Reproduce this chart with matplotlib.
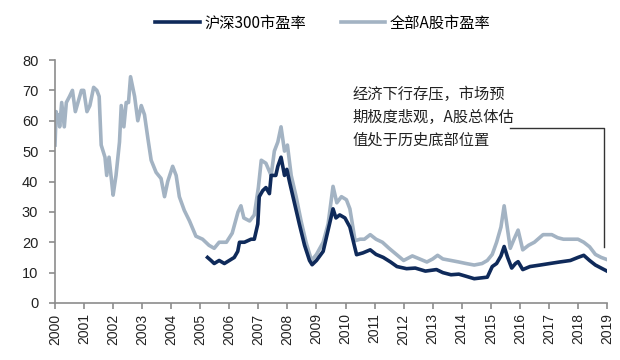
import matplotlib
matplotlib.use("Agg")
import matplotlib.pyplot as plt

plt.rcParams['font.family'] = ['Liberation Sans', 'Noto Sans CJK SC', 'DejaVu Sans']

# 全部A股市盈率 (all A-share PE)
all_a_t = [2000.0, 2000.04, 2000.08, 2000.12, 2000.16, 2000.23, 2000.32, 2000.39, 2000.5, 2000.6,
           2000.7, 2000.82, 2000.91, 2000.99, 2001.1, 2001.2, 2001.33, 2001.44, 2001.52, 2001.59,
           2001.72, 2001.78, 2001.86, 2001.95, 2002.0, 2002.1, 2002.22, 2002.28, 2002.37, 2002.45,
           2002.53, 2002.6, 2002.74, 2002.85, 2002.97, 2003.08, 2003.2, 2003.31, 2003.48, 2003.65,
           2003.77, 2003.88, 2004.05, 2004.17, 2004.28, 2004.45, 2004.63, 2004.85, 2005.08, 2005.3,
           2005.48, 2005.65, 2005.9, 2006.1, 2006.3, 2006.4, 2006.5,
           2006.7, 2006.86, 2007.0, 2007.1, 2007.26, 2007.44, 2007.55, 2007.67, 2007.78, 2007.9,
           2008.0, 2008.13, 2008.3, 2008.47, 2008.64, 2008.83, 2009.0, 2009.23, 2009.4, 2009.57,
           2009.7, 2009.86, 2010.03, 2010.15, 2010.33, 2010.5, 2010.65, 2010.85, 2011.05, 2011.27,
           2011.5, 2011.75, 2012.0, 2012.3, 2012.55, 2012.8, 2013.0, 2013.17, 2013.35, 2013.63,
           2013.9, 2014.15, 2014.43, 2014.7, 2014.88, 2015.05, 2015.2, 2015.35, 2015.46, 2015.55,
           2015.67, 2015.8, 2015.94, 2016.1, 2016.3, 2016.5, 2016.8, 2017.1, 2017.3, 2017.5,
           2017.75, 2018.0, 2018.2, 2018.4, 2018.6, 2018.8, 2019.0]
all_a_v = [52, 63, 60, 62, 58, 66, 58, 66, 68, 70,
           63, 67, 70, 70, 63, 65, 71, 70, 68, 52,
           48, 42, 48, 40, 35.5, 42, 53, 65, 58, 66,
           66, 74.5, 68, 60, 65, 62, 54, 47, 43, 41,
           35, 40, 45, 42, 35, 30.5, 27, 22, 21, 19,
           18, 20, 20, 23, 30, 32, 28,
           27, 29, 38, 47, 46, 42, 50, 53, 58, 50,
           52, 42, 35, 27, 20, 14, 16, 20, 26, 38.4,
           33, 35, 34, 31, 20.5, 21, 21, 22.5, 21, 20,
           18, 16, 14, 15.5, 14.5, 13.5, 14.5, 15.7, 14.5, 14,
           13.5, 13, 12.5, 13, 14, 16, 20, 25, 32, 26,
           18, 21, 24, 17.5, 19, 20, 22.5, 22.5, 21.5, 21,
           21, 21, 20, 18.5, 16, 15, 14.3]

# 沪深300市盈率 (CSI 300 PE)
hs300_t = [2005.25, 2005.37, 2005.48, 2005.65, 2005.83, 2006.0, 2006.17, 2006.29, 2006.35, 2006.52,
           2006.75, 2006.86, 2006.98, 2007.03, 2007.15, 2007.26, 2007.38, 2007.44, 2007.6, 2007.67,
           2007.78, 2007.9, 2007.98, 2008.07, 2008.24, 2008.41, 2008.59, 2008.76, 2008.85, 2009.0,
           2009.23, 2009.4, 2009.57, 2009.67, 2009.8, 2009.98, 2010.15, 2010.38, 2010.6, 2010.85,
           2011.05, 2011.3, 2011.55, 2011.77, 2012.1, 2012.4, 2012.75, 2013.13, 2013.35, 2013.63,
           2013.9, 2014.15, 2014.43, 2014.7, 2014.88, 2015.05, 2015.2, 2015.35, 2015.46, 2015.58,
           2015.72, 2015.85, 2015.94, 2016.1, 2016.35, 2016.7, 2017.03, 2017.37, 2017.74, 2018.0,
           2018.2, 2018.4, 2018.6, 2018.8, 2019.0]
hs300_v = [15, 14, 13, 14, 13, 14, 15, 17, 20, 20,
           21, 21, 26, 35, 37, 38, 36, 42, 42, 45,
           48, 42, 44, 40, 33, 26, 19, 14, 12.6, 14,
           17, 24, 31, 28, 29, 28, 25, 15.9, 16.5, 17.5,
           16, 15, 13.5, 12, 11.3, 11.5, 10.5, 11, 10, 9.3,
           9.5, 8.8, 8, 8.3, 8.5, 12, 13, 15.5, 18.6, 15,
           11.5, 13, 13.6, 11, 12, 12.5, 13, 13.5, 14, 15,
           15.7, 14, 12.5, 11.5, 10.5]

years = list(range(2000, 2020))
yticks = list(range(0, 90, 10))

dark = '#0f2a5a'
light = '#a3b3c3'
spine = '#8c8c8c'

fig = plt.figure(figsize=(6.2, 3.6), dpi=100)
ax = fig.add_axes([55/620, 57/360, 552/620, 243/360])

ax.plot(all_a_t, all_a_v, color=light, lw=2.6, label='全部A股市盈率', zorder=2)
ax.plot(hs300_t, hs300_v, color=dark, lw=2.6, label='沪深300市盈率', zorder=3)

ax.set_xlim(2000, 2019)
ax.set_ylim(0, 80)
ax.set_xticks(years)
ax.set_xticklabels([str(y) for y in years], rotation=90, fontsize=10, color='#222222')
ax.set_yticks(yticks)
ax.set_yticklabels([str(y) for y in yticks], fontsize=10.5, color='#222222')
for s in ['top', 'right']:
    ax.spines[s].set_visible(False)
for s in ['left', 'bottom']:
    ax.spines[s].set_color(spine)
    ax.spines[s].set_linewidth(1.2)
ax.tick_params(axis='both', direction='out', color=spine, length=4, width=1.2)
ax.tick_params(axis='y', pad=8)

handles, labels = ax.get_legend_handles_labels()
fig.legend([handles[1], handles[0]], [labels[1], labels[0]], loc='center',
           bbox_to_anchor=(323/620, 1 - 23/360), ncol=2, frameon=False,
           handlelength=2.9, columnspacing=2.3, handletextpad=0.3,
           prop={'family': ['Noto Sans CJK SC', 'Liberation Sans'], 'size': 11})

ax.text(2010.25, 71.5, '经济下行存压，市场预\n期极度悲观，A股总体估\n值处于历史底部位置',
        fontsize=11, va='top', ha='left', linespacing=1.45,
        family=['Noto Sans CJK SC', 'Liberation Sans'], color='#222222')
ax.plot([2015.65, 2018.9, 2018.9], [57.5, 57.5, 18.5], color='#333333', lw=1.0,
        transform=ax.transData, clip_on=False)

fig.savefig('out.png', dpi=100)
